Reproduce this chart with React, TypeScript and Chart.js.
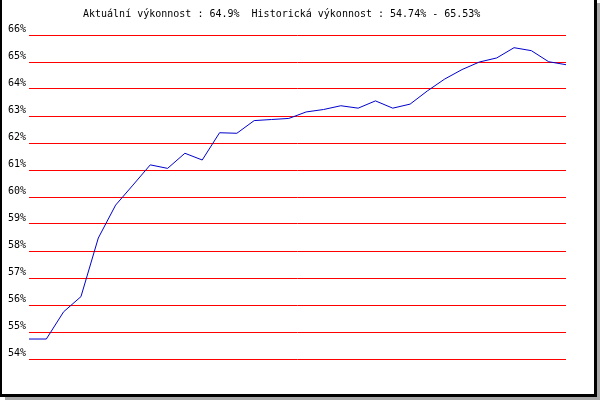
import React, { useEffect, useRef } from "react";
import { Chart, registerables } from "chart.js";

Chart.register(...registerables);

const titleText = "Aktuální výkonnost : 64.9%  Historická výkonnost : 54.74% - 65.53%";
const yMin = 54;
const yMax = 66;
const yStep = 1;
const points: number[] = [
  54.74, 54.74, 55.75, 56.31, 58.48, 59.7, 60.44, 61.19, 61.06, 61.62, 61.37,
  62.38, 62.36, 62.83, 62.87, 62.91, 63.15, 63.24, 63.38, 63.29, 63.56, 63.29,
  63.44, 63.93, 64.37, 64.72, 65.0, 65.15, 65.53, 65.42, 65.01, 64.9,
];
const labels: string[] = points.map((_, i) => String(i + 1));

const framePlugin = {
  id: "frame",
  beforeDraw(chart: any) {
    const ctx = chart.ctx;
    ctx.save();
    ctx.fillStyle = "#ffffff";
    ctx.fillRect(0, 0, chart.width, chart.height);
    ctx.restore();
  },
  afterDraw(chart: any) {
    const ctx = chart.ctx;
    ctx.save();
    ctx.fillStyle = "#000000";
    ctx.fillRect(0, 0, 2, 397);
    ctx.fillRect(594, 0, 3, 397);
    ctx.fillRect(0, 394, 597, 3);
    ctx.fillStyle = "#a8a8a8";
    ctx.fillRect(597, 3, 3, 397);
    ctx.fillRect(5, 397, 595, 3);
    ctx.fillStyle = "#000000";
    ctx.font = "10px 'DejaVu Sans Mono'";
    ctx.textAlign = "left";
    ctx.textBaseline = "alphabetic";
    ctx.fillText(titleText, 83, 17);
    ctx.restore();
  },
};

export default function App() {
  const ref = useRef<HTMLCanvasElement | null>(null);
  useEffect(() => {
    document.body.style.margin = "0";
    if (!ref.current) return;
    const chart = new Chart(ref.current, {
      type: "line",
      data: {
        labels,
        datasets: [
          {
            data: points,
            borderColor: "#0000cc",
            borderWidth: 1,
            pointRadius: 0,
            tension: 0,
            fill: false,
          },
        ],
      },
      options: {
        animation: false,
        responsive: false,
        devicePixelRatio: 1,
        layout: { padding: { left: 0, top: 35, right: 34, bottom: 41 } },
        plugins: {
          legend: { display: false },
          tooltip: { enabled: false },
          title: { display: false },
        },
        scales: {
          x: {
            type: "category",
            display: false,
            offset: false,
          },
          y: {
            min: yMin,
            max: yMax,
            border: { display: false },
            grid: { color: "#ff0000", lineWidth: 1, drawTicks: false },
            afterFit: (scale: any) => {
              scale.width = 29;
            },
            ticks: {
              stepSize: yStep,
              padding: 3,
              labelOffset: -6,
              color: "#000000",
              font: { family: "'DejaVu Sans Mono'", size: 10 },
              callback: (v: any) => v + "%",
            },
          },
        },
      },
      plugins: [framePlugin],
    });
    return () => chart.destroy();
  }, []);
  return <canvas ref={ref} width={600} height={400} style={{ display: "block" }} />;
}
